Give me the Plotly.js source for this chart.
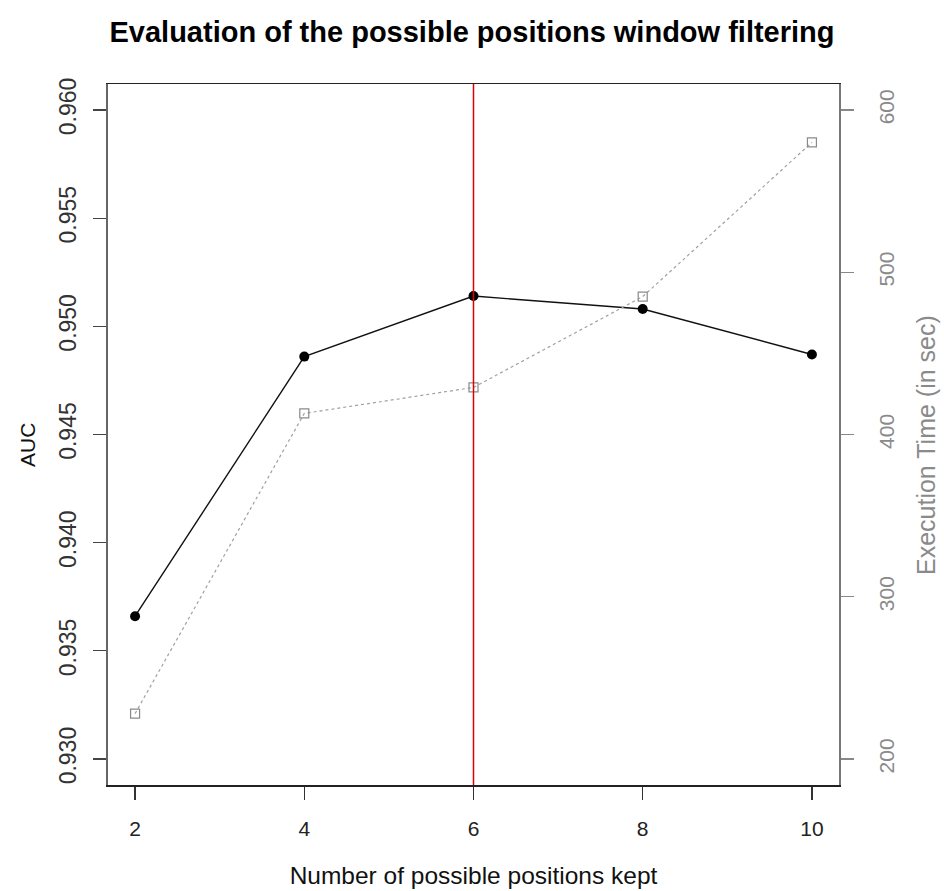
<!DOCTYPE html>
<html>
<head>
<meta charset="utf-8">
<script src="https://cdn.plot.ly/plotly-3.0.1.min.js"></script>
<style>html,body{margin:0;padding:0;background:#fff;}#chart{width:944px;height:891px;}</style>
</head>
<body>
<div id="chart"></div>
<script>
// Data
const positionsKept = [2, 4, 6, 8, 10];
const aucValues = [0.9366, 0.9486, 0.9514, 0.9508, 0.9487];
const execTimeSec = [228, 413, 429, 485, 580];
const selectedPositions = 6;
const aucTicks = [0.930, 0.935, 0.940, 0.945, 0.950, 0.955, 0.960];
const aucTickLabels = ["0.930", "0.935", "0.940", "0.945", "0.950", "0.955", "0.960"];
const timeTicks = [200, 300, 400, 500, 600];
const xTicks = [2, 4, 6, 8, 10];

const font = "Liberation Sans, Arial, Helvetica, sans-serif";

const traces = [
  {
    x: positionsKept, y: execTimeSec, yaxis: 'y2', type: 'scatter', mode: 'lines+markers',
    line: {color: '#a0a0a0', width: 1.2, dash: 'dot'},
    marker: {symbol: 'square-open', size: 9, color: '#8a8a8a', line: {width: 1.2}},
    hoverinfo: 'x+y', showlegend: false
  },
  {
    x: positionsKept, y: aucValues, type: 'scatter', mode: 'lines+markers',
    line: {color: '#111', width: 1.4},
    marker: {symbol: 'circle', size: 10, color: '#000'},
    hoverinfo: 'x+y', showlegend: false
  }
];

const layout = {
  width: 944, height: 891,
  paper_bgcolor: '#fff', plot_bgcolor: '#fff',
  margin: {l: 108, r: 105, t: 84, b: 106},
  font: {family: font, size: 20, color: '#222'},
  title: {
    text: '<b>Evaluation of the possible positions window filtering</b>',
    font: {family: font, size: 29, color: '#000'},
    x: 0.5, xanchor: 'center', y: 0.964, yanchor: 'middle'
  },
  xaxis: {
    range: [1.68, 10.32], tickvals: xTicks, ticktext: xTicks.map(String),
    showgrid: false, zeroline: false,
    showline: true, linecolor: '#222', linewidth: 1.5, mirror: true,
    ticks: 'outside', ticklen: 13, tickwidth: 1.2, tickcolor: '#333',
    ticklabelstandoff: 11,
    tickfont: {family: font, size: 21, color: '#222'},
    title: {text: 'Number of possible positions kept', font: {family: font, size: 24.5, color: '#111'}, standoff: 28}
  },
  yaxis: {
    range: [0.9288, 0.9612], tickvals: aucTicks, ticktext: aucTickLabels,
    showgrid: false, zeroline: false,
    showline: true, linecolor: '#666', linewidth: 2, mirror: true,
    ticks: 'outside', ticklen: 13, tickwidth: 1.2, tickcolor: '#444',
    tickangle: -90, ticklabelstandoff: 8,
    tickfont: {family: font, size: 23, color: '#333'}
  },
  yaxis2: {
    overlaying: 'y', side: 'right',
    range: [184, 616], tickvals: timeTicks, ticktext: timeTicks.map(String),
    showgrid: false, zeroline: false,
    showline: true, linecolor: '#777', linewidth: 2,
    ticks: 'outside', ticklen: 13, tickwidth: 1.2, tickcolor: '#888',
    tickangle: -90, ticklabelstandoff: 15,
    tickfont: {family: font, size: 21, color: '#8a8a8a'}
  },
  annotations: [
    {
      text: 'AUC', xref: 'paper', yref: 'paper', x: 0, y: 0.485,
      xanchor: 'center', yanchor: 'middle', xshift: -81, textangle: -90, showarrow: false,
      font: {family: font, size: 21, color: '#111'}
    },
    {
      text: 'Execution Time (in sec)', xref: 'paper', yref: 'paper', x: 1, y: 0.485,
      xanchor: 'center', yanchor: 'middle', xshift: 87, textangle: -90, showarrow: false,
      font: {family: font, size: 25, color: '#8a8a8a'}
    }
  ],
  shapes: [{
    type: 'line', xref: 'x', yref: 'paper',
    x0: selectedPositions, x1: selectedPositions, y0: 0, y1: 1,
    line: {color: '#dd0000', width: 1.5}, layer: 'above'
  }]
};

Plotly.newPlot('chart', traces, layout, {displayModeBar: false, staticPlot: true});
</script>
</body>
</html>
